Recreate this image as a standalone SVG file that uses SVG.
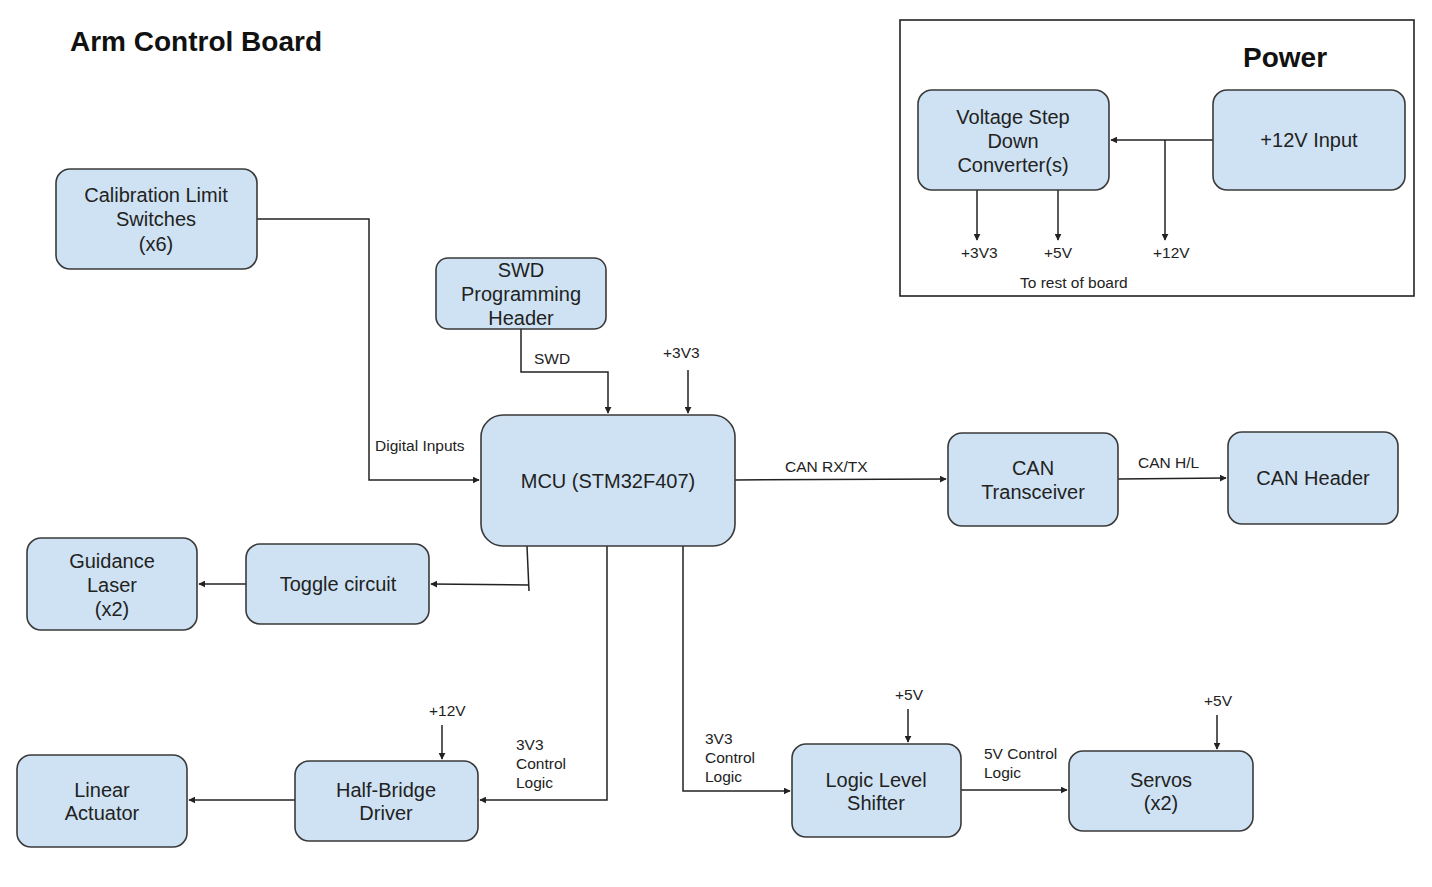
<svg xmlns="http://www.w3.org/2000/svg" width="1432" height="887" viewBox="0 0 1432 887">
<style>
.box{fill:#cfe2f3;stroke:#3a3a3a;stroke-width:1.6}
.t{font-family:"Liberation Sans",Arial,sans-serif;font-size:20px;fill:#222;text-anchor:middle}
.l{font-family:"Liberation Sans",Arial,sans-serif;font-size:15.5px;fill:#222}
.h{font-family:"Liberation Sans",Arial,sans-serif;font-size:28px;font-weight:bold;fill:#111}
.c{fill:none;stroke:#222;stroke-width:1.5}
</style>
<defs>
<marker id="ah" viewBox="0 0 10 10" refX="9" refY="5" markerWidth="7" markerHeight="7" markerUnits="userSpaceOnUse" orient="auto">
<path d="M0,0 L10,5 L0,10 z" fill="#222"/>
</marker>
</defs>
<rect width="1432" height="887" fill="#fff"/>
<text class="h" x="70" y="51">Arm Control Board</text>
<g id="power-frame">
<rect x="900" y="20" width="514" height="276" fill="none" stroke="#222" stroke-width="1.6"/>
<text class="h" x="1243" y="67">Power</text>
<text class="l" x="961" y="258">+3V3</text>
<text class="l" x="1044" y="258">+5V</text>
<text class="l" x="1153" y="258">+12V</text>
<text class="l" x="1020" y="288">To rest of board</text>
</g>
<g id="connectors">
<path class="c" d="M1213,140 H1111" marker-end="url(#ah)"/>
<path class="c" d="M1165,140 V240" marker-end="url(#ah)"/>
<path class="c" d="M977,190 V240" marker-end="url(#ah)"/>
<path class="c" d="M1058,190 V240" marker-end="url(#ah)"/>
<path class="c" d="M257,219 H369 V480 H479" marker-end="url(#ah)"/>
<path class="c" d="M521,329 V372 H608 V413" marker-end="url(#ah)"/>
<path class="c" d="M688,370 V413" marker-end="url(#ah)"/>
<path class="c" d="M735,480 L946,479" marker-end="url(#ah)"/>
<path class="c" d="M1118,479 L1226,478" marker-end="url(#ah)"/>
<path class="c" d="M527,546 L529,591"/>
<path class="c" d="M529,585 L431,584" marker-end="url(#ah)"/>
<path class="c" d="M246,584 H199" marker-end="url(#ah)"/>
<path class="c" d="M607,546 V800 H480" marker-end="url(#ah)"/>
<path class="c" d="M442,725 V759" marker-end="url(#ah)"/>
<path class="c" d="M295,800 H189" marker-end="url(#ah)"/>
<path class="c" d="M683,546 V791 H790" marker-end="url(#ah)"/>
<path class="c" d="M908,709 V742" marker-end="url(#ah)"/>
<path class="c" d="M961,790 H1067" marker-end="url(#ah)"/>
<path class="c" d="M1217,715 V749" marker-end="url(#ah)"/>
<text class="l" x="375" y="451">Digital Inputs</text>
<text class="l" x="534" y="364">SWD</text>
<text class="l" x="663" y="358">+3V3</text>
<text class="l" x="785" y="472">CAN RX/TX</text>
<text class="l" x="1138" y="468">CAN H/L</text>
<text class="l" x="516" y="750">3V3</text>
<text class="l" x="516" y="769">Control</text>
<text class="l" x="516" y="788">Logic</text>
<text class="l" x="429" y="716">+12V</text>
<text class="l" x="705" y="744">3V3</text>
<text class="l" x="705" y="763">Control</text>
<text class="l" x="705" y="782">Logic</text>
<text class="l" x="895" y="700">+5V</text>
<text class="l" x="984" y="759">5V Control</text>
<text class="l" x="984" y="778">Logic</text>
<text class="l" x="1204" y="706">+5V</text>
</g>
<g id="vstep">
<rect class="box" x="918" y="90" width="191" height="100" rx="14"/>
<text class="t" x="1013" y="124">Voltage Step</text>
<text class="t" x="1013" y="148">Down</text>
<text class="t" x="1013" y="172">Converter(s)</text>
</g>
<g id="input12">
<rect class="box" x="1213" y="90" width="192" height="100" rx="14"/>
<text class="t" x="1309" y="147">+12V Input</text>
</g>
<g id="calib">
<rect class="box" x="56" y="169" width="201" height="100" rx="14"/>
<text class="t" x="156" y="202">Calibration Limit</text>
<text class="t" x="156" y="226">Switches</text>
<text class="t" x="156" y="251">(x6)</text>
</g>
<g id="swd">
<rect class="box" x="436" y="258" width="170" height="71" rx="12"/>
<text class="t" x="521" y="277">SWD</text>
<text class="t" x="521" y="301">Programming</text>
<text class="t" x="521" y="325">Header</text>
</g>
<g id="mcu">
<rect class="box" x="481" y="415" width="254" height="131" rx="22"/>
<text class="t" x="608" y="488">MCU (STM32F407)</text>
</g>
<g id="cantx">
<rect class="box" x="948" y="433" width="170" height="93" rx="14"/>
<text class="t" x="1033" y="475">CAN</text>
<text class="t" x="1033" y="499">Transceiver</text>
</g>
<g id="canhdr">
<rect class="box" x="1228" y="432" width="170" height="92" rx="14"/>
<text class="t" x="1313" y="485">CAN Header</text>
</g>
<g id="toggle">
<rect class="box" x="246" y="544" width="183" height="80" rx="14"/>
<text class="t" x="338" y="591">Toggle circuit</text>
</g>
<g id="laser">
<rect class="box" x="27" y="538" width="170" height="92" rx="14"/>
<text class="t" x="112" y="568">Guidance</text>
<text class="t" x="112" y="592">Laser</text>
<text class="t" x="112" y="616">(x2)</text>
</g>
<g id="halfbridge">
<rect class="box" x="295" y="761" width="183" height="80" rx="14"/>
<text class="t" x="386" y="797">Half-Bridge</text>
<text class="t" x="386" y="820">Driver</text>
</g>
<g id="actuator">
<rect class="box" x="17" y="755" width="170" height="92" rx="14"/>
<text class="t" x="102" y="797">Linear</text>
<text class="t" x="102" y="820">Actuator</text>
</g>
<g id="shifter">
<rect class="box" x="792" y="744" width="169" height="93" rx="14"/>
<text class="t" x="876" y="787">Logic Level</text>
<text class="t" x="876" y="810">Shifter</text>
</g>
<g id="servos">
<rect class="box" x="1069" y="751" width="184" height="80" rx="14"/>
<text class="t" x="1161" y="787">Servos</text>
<text class="t" x="1161" y="810">(x2)</text>
</g>
</svg>
